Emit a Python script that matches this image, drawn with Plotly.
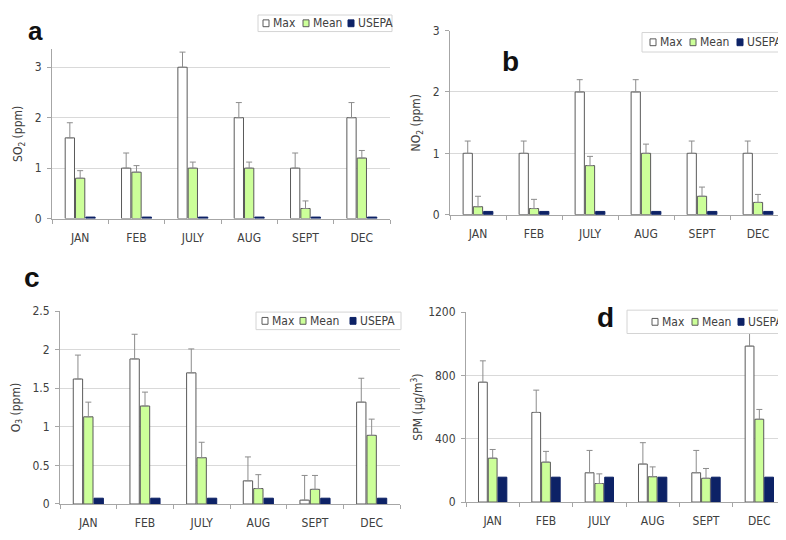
import plotly.graph_objects as go

months = ["JAN", "FEB", "JULY", "AUG", "SEPT", "DEC"]
series_names = ["Max", "Mean", "USEPA"]

# Panel a: SO2 (ppm)
so2_max = [1.6, 1.0, 3.0, 2.0, 1.0, 2.0]
so2_max_err = [0.3, 0.3, 0.3, 0.3, 0.3, 0.3]
so2_mean = [0.8, 0.92, 1.0, 1.0, 0.2, 1.2]
so2_mean_err = [0.15, 0.13, 0.12, 0.12, 0.15, 0.15]
so2_usepa = [0.03, 0.03, 0.03, 0.03, 0.03, 0.03]

# Panel b: NO2 (ppm)
no2_max = [1.0, 1.0, 2.0, 2.0, 1.0, 1.0]
no2_max_err = [0.2, 0.2, 0.2, 0.2, 0.2, 0.2]
no2_mean = [0.13, 0.1, 0.8, 1.0, 0.3, 0.2]
no2_mean_err = [0.17, 0.15, 0.15, 0.15, 0.15, 0.13]
no2_usepa = [0.053, 0.053, 0.053, 0.053, 0.053, 0.053]

# Panel c: O3 (ppm)
o3_max = [1.62, 1.88, 1.7, 0.3, 0.05, 1.32]
o3_max_err = [0.31, 0.32, 0.31, 0.31, 0.32, 0.31]
o3_mean = [1.13, 1.27, 0.6, 0.2, 0.19, 0.89]
o3_mean_err = [0.19, 0.18, 0.2, 0.18, 0.18, 0.21]
o3_usepa = [0.075, 0.075, 0.075, 0.075, 0.075, 0.075]

# Panel d: SPM (ug/m3)
spm_max = [757, 566, 185, 240, 185, 985]
spm_max_err = [135, 141, 141, 135, 141, 140]
spm_mean = [277, 252, 117, 160, 150, 523]
spm_mean_err = [55, 68, 61, 62, 62, 62]
spm_usepa = [157, 157, 157, 157, 157, 157]

W, H = 786, 540
OFF = 8  # page body margin offset of the figure in the browser window


def px(x):
    return (x - OFF) / W


def py(y):
    return 1 - (y - OFF) / H


FONT = "Liberation Sans Narrow, DejaVu Sans Condensed, Arial Narrow, Arial, sans-serif"
MAX_FILL, MEAN_FILL, USEPA_FILL = "#ffffff", "#ccff99", "#0d2266"
EDGE = "#5a5a5a"
ERR = "#8c8c8c"
GRID = "#d9d9d9"
AXIS = "#a6a6a6"
TXT = "#404040"

panels = [
    dict(letter="a", data=(so2_max, so2_max_err, so2_mean, so2_mean_err, so2_usepa),
         px=(52, 390), py=(43, 217), rng=[0, 3.36], dtick=1,
         title="SO<sub>2</sub> (ppm)", standoff=9, letter_xy=(35, 8), lanchor="top",
         lsize=26, box=(258, 392, 8, 25), sw=(263, 303, 348)),
    dict(letter="b", data=(no2_max, no2_max_err, no2_mean, no2_mean_err, no2_usepa),
         px=(450, 786), py=(24, 213), rng=[0, 3], dtick=1,
         title="NO<sub>2</sub> (ppm)", standoff=9, letter_xy=(510, 56), lanchor="middle",
         lsize=28, box=(642, 790, 26, 46), sw=(650, 690, 737)),
    dict(letter="c", data=(o3_max, o3_max_err, o3_mean, o3_mean_err, o3_usepa),
         px=(60, 400), py=(312, 510), rng=[0, 2.5], dtick=0.5,
         title="O<sub>3</sub> (ppm)", standoff=9, letter_xy=(32, 277), lanchor="middle",
         lsize=28, box=(256, 401, 313, 331), sw=(262, 300, 350)),
    dict(letter="d", data=(spm_max, spm_max_err, spm_mean, spm_mean_err, spm_usepa),
         px=(466, 786), py=(313, 508), rng=[0, 1200], dtick=400,
         title="SPM (µg/m<sup>3</sup>)", standoff=2, letter_xy=(605, 319), lanchor="middle",
         lsize=28, box=(627, 790, 311, 335), sw=(652, 692, 738)),
]

fig = go.Figure()
layout = dict(
    width=W, height=H,
    margin=dict(l=0, r=0, t=0, b=0),
    paper_bgcolor="white", plot_bgcolor="white",
    barmode="group", bargap=0.45, bargroupgap=0.1,
    showlegend=False,
    font=dict(family=FONT, size=12, color=TXT),
    annotations=[], shapes=[],
)

fills = [MAX_FILL, MEAN_FILL, USEPA_FILL]
edges = [EDGE, EDGE, USEPA_FILL]

for i, p in enumerate(panels):
    n = "" if i == 0 else str(i + 1)
    xa, ya = "x" + n, "y" + n
    mx, mxe, mn, mne, us = p["data"]
    vals = [mx, mn, us]
    errs = [mxe, mne, None]
    for name, v, e, fc, ec in zip(series_names, vals, errs, fills, edges):
        tr = go.Bar(
            x=months, y=v, name=name, xaxis=xa, yaxis=ya,
            marker=dict(color=fc, line=dict(color=ec, width=1)),
        )
        if e is not None:
            tr.error_y = dict(type="data", array=e, arrayminus=[0] * len(e),
                              symmetric=False, color=ERR, thickness=1, width=3)
        fig.add_trace(tr)

    x0, x1 = p["px"]
    y0, y1 = p["py"]
    layout["xaxis" + n] = dict(
        domain=[px(x0), min(1.0, px(x1))], anchor=ya,
        showline=True, linecolor=AXIS, linewidth=1,
        ticks="outside", ticklen=4, tickcolor=AXIS, tickson="boundaries",
        showgrid=False, ticklabelstandoff=8,
        tickfont=dict(family=FONT, size=12, color=TXT),
    )
    layout["yaxis" + n] = dict(
        domain=[py(y1), py(y0)], anchor=xa, range=p["rng"],
        dtick=p["dtick"], showline=True, linecolor=AXIS, linewidth=1,
        ticks="outside", ticklen=4, tickcolor=AXIS,
        showgrid=True, gridcolor=GRID, gridwidth=1, zeroline=False,
        ticklabelstandoff=3,
        tickfont=dict(family=FONT, size=12, color=TXT),
        title=dict(text=p["title"], font=dict(family=FONT, size=12, color=TXT),
                   standoff=p["standoff"]),
    )

    # legend box
    bx0, bx1, by0, by1 = p["box"]
    layout["shapes"].append(dict(
        type="rect", xref="paper", yref="paper",
        x0=px(bx0), x1=px(bx1), y0=py(by1), y1=py(by0),
        fillcolor="white", line=dict(color="#d4d4d4", width=1), layer="above",
    ))
    cy = (by0 + by1) / 2
    for name, sx, fc, ec in zip(series_names, p["sw"], fills, edges):
        layout["shapes"].append(dict(
            type="rect", xref="paper", yref="paper",
            x0=px(sx), x1=px(sx + 6), y0=py(cy + 3.5), y1=py(cy - 3.5),
            fillcolor=fc, line=dict(color=ec, width=1),
            layer="above",
        ))
        layout["annotations"].append(dict(
            text=name, x=px(sx + 8), y=py(cy), xref="paper", yref="paper",
            xanchor="left", yanchor="middle", showarrow=False,
            font=dict(family=FONT, size=12, color=TXT),
        ))

    lx2, ly2 = p["letter_xy"]
    layout["annotations"].append(dict(
        text="<b>%s</b>" % p["letter"], x=px(lx2), y=min(1.0, py(ly2)),
        xref="paper", yref="paper", showarrow=False,
        font=dict(family="Arial, Liberation Sans, sans-serif", size=p["lsize"], color="#111111"),
        xanchor="center", yanchor=p["lanchor"], borderpad=0,
    ))

fig.update_layout(**layout)
fig.write_html("out.html")
